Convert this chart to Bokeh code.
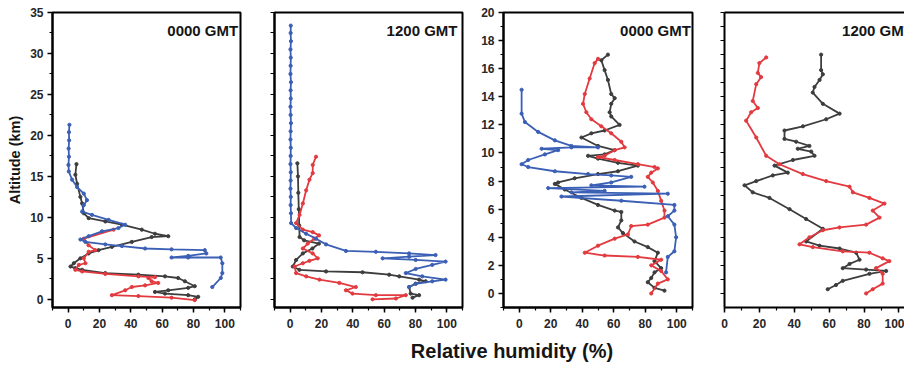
from bokeh.plotting import figure
from bokeh.layouts import row, column
from bokeh.models import Range1d, Label, SingleIntervalTicker, FixedTicker, LinearAxis
from bokeh.embed import file_html
from bokeh.resources import INLINE

# ---------------- data (relative humidity %, altitude km) ----------------
p1_black_rh = [5.3, 4.6, 5.7, 7.8, 8.9, 10.0, 13.1, 23.7, 34.3, 47.0, 55.4, 63.9, 53.3, 40.6, 27.9, 19.4, 13.1, 7.8, 3.6, 1.5, 4.6, 8.9, 23.7, 44.8, 61.8, 70.2, 74.5, 80.8, 76.6, 63.9, 55.4, 61.8, 76.6, 83.0, 80.8]
p1_black_alt = [16.5, 15.2, 14.1, 12.5, 11.7, 10.5, 9.9, 9.5, 9.1, 8.5, 8.0, 7.7, 7.6, 7.0, 6.4, 6.0, 5.6, 5.0, 4.4, 4.0, 3.8, 3.6, 3.2, 3.0, 2.8, 2.6, 2.2, 1.6, 1.4, 1.1, 0.9, 0.7, 0.5, 0.3, 0.0]
p1_blue_rh = [0.8, 0.5, 0.6, 0.3, 0.5, 0.2, 0.4, 2.5, 5.7, 10.0, 12.0, 10.0, 8.9, 15.2, 25.8, 36.4, 32.1, 21.6, 13.1, 7.8, 11.0, 23.7, 34.3, 49.1, 66.0, 87.2, 88.2, 76.6, 66.0, 76.6, 97.4, 98.4, 98.4, 97.4, 92.0]
p1_blue_alt = [21.3, 20.4, 19.4, 18.4, 17.4, 16.4, 15.6, 14.6, 13.7, 12.9, 12.1, 11.5, 10.7, 10.3, 9.7, 9.1, 8.7, 8.3, 7.7, 7.3, 7.0, 6.7, 6.5, 6.2, 6.1, 6.0, 5.6, 5.3, 5.1, 5.1, 5.1, 4.4, 3.2, 2.6, 1.5]
p1_red_rh = [29.0, 10.0, 13.0, 17.3, 13.1, 10.0, 11.0, 6.8, 4.6, 8.9, 23.7, 44.8, 55.4, 51.2, 53.3, 57.5, 49.1, 40.6, 36.4, 27.9, 44.8, 66.0, 80.8]
p1_red_alt = [8.5, 7.4, 6.6, 6.0, 5.8, 5.0, 4.4, 4.2, 3.6, 3.4, 3.1, 2.8, 2.7, 2.6, 2.2, 2.0, 1.7, 1.5, 1.1, 0.5, 0.4, 0.2, -0.1]

p2_blue_rh = [0.4, 0.3, 0.5, 0.2, 0.4, 0.3, 0.2, 0.5, 0.3, 0.4, 0.2, 0.3, 0.5, 0.3, 0.2, 0.4, 0.3, 0.2, 0.4, 0.3, 0.2, 0.4, 0.3, 0.5, 0.6, 3.8, 10.2, 16.5, 22.9, 35.6, 54.7, 75.9, 92.8, 75.9, 59.0, 80.1, 99.2, 90.7, 80.1, 73.8, 84.3, 99.2, 90.7, 80.1, 75.9]
p2_blue_alt = [33.4, 32.5, 31.5, 30.5, 29.5, 28.5, 27.5, 26.5, 25.5, 24.5, 23.5, 22.5, 21.5, 20.5, 19.5, 18.5, 17.5, 16.5, 15.5, 14.5, 13.5, 12.5, 11.5, 10.5, 9.3, 8.7, 8.0, 7.4, 6.7, 5.9, 5.8, 5.6, 5.4, 5.2, 5.0, 4.8, 4.6, 4.2, 3.7, 3.2, 2.8, 2.4, 2.2, 1.9, 1.5]
p2_black_rh = [4.6, 5.0, 5.2, 5.5, 5.8, 6.0, 8.9, 18.4, 14.2, 8.1, 3.8, 1.7, 5.9, 22.9, 46.2, 63.2, 69.6, 82.3, 86.5, 80.1, 75.9, 76.9, 82.3, 78.1]
p2_black_alt = [16.6, 15.0, 13.0, 11.0, 9.0, 7.6, 7.2, 6.8, 6.2, 5.6, 4.8, 4.0, 3.6, 3.4, 3.3, 3.0, 2.8, 2.4, 2.2, 1.9, 1.5, 0.7, 0.5, 0.2]
p2_red_rh = [16.5, 14.4, 14.4, 12.3, 10.2, 8.1, 6.0, 3.8, 8.1, 14.4, 18.4, 15.4, 11.2, 8.1, 14.4, 17.6, 12.3, 8.1, 2.8, 3.8, 10.2, 18.7, 31.4, 41.9, 35.6, 39.8, 54.7, 73.8, 67.5, 52.6]
p2_red_alt = [17.4, 16.4, 15.4, 14.6, 13.3, 11.7, 10.3, 9.3, 8.5, 8.2, 7.8, 7.4, 6.8, 6.2, 5.6, 5.0, 4.7, 4.4, 4.0, 3.2, 2.8, 2.4, 2.0, 1.5, 1.1, 0.7, 0.5, 0.5, 0.1, 0.0]

p3_black_rh = [56.3, 52.1, 54.2, 56.3, 58.4, 60.6, 58.4, 57.4, 58.4, 63.7, 54.2, 45.8, 39.5, 50.0, 60.6, 54.2, 43.7, 50.0, 62.7, 75.3, 62.7, 50.0, 35.2, 24.7, 22.6, 28.9, 39.5, 50.0, 60.6, 64.8, 64.8, 62.7, 65.8, 73.2, 81.6, 88.0, 85.9, 90.1, 85.9, 83.8, 81.6, 85.9, 92.2]
p3_black_alt = [17.0, 16.6, 15.9, 15.2, 14.2, 13.9, 13.5, 12.9, 12.6, 12.0, 11.6, 11.4, 11.1, 10.5, 10.2, 9.9, 9.8, 9.6, 9.3, 9.1, 8.7, 8.5, 8.2, 7.9, 7.8, 7.4, 6.8, 6.3, 5.9, 5.8, 5.2, 4.7, 4.3, 3.7, 3.3, 2.9, 2.3, 1.8, 1.5, 1.1, 0.8, 0.4, 0.2]
p3_red_rh = [50.0, 47.9, 44.7, 41.6, 40.5, 42.6, 45.8, 52.1, 58.4, 64.8, 66.9, 60.6, 54.2, 50.0, 60.6, 75.3, 85.9, 88.0, 83.8, 81.6, 84.8, 88.0, 90.1, 92.2, 92.2, 81.6, 71.1, 69.0, 60.6, 50.0, 41.6, 54.2, 75.3, 90.1, 83.8, 90.1, 94.3, 88.0, 83.8]
p3_red_alt = [16.7, 16.4, 15.3, 14.2, 13.5, 12.9, 12.4, 11.9, 11.4, 10.8, 10.4, 10.2, 9.8, 9.7, 9.5, 9.2, 9.0, 8.9, 8.6, 8.3, 7.9, 7.3, 6.6, 5.9, 5.4, 4.9, 4.8, 4.2, 3.9, 3.4, 2.9, 2.7, 2.6, 2.4, 2.0, 1.6, 1.0, 0.7, 0.0]
p3_blue_rh = [1.5, 1.5, 3.6, 12.0, 22.6, 33.1, 50.0, 33.1, 14.2, 24.7, 16.3, 5.7, 1.5, 5.7, 22.6, 43.7, 58.4, 71.1, 58.4, 45.8, 79.5, 18.4, 54.2, 33.1, 94.3, 26.8, 64.8, 98.5, 98.5, 94.3, 98.5, 99.6, 98.5, 94.3, 93.2]
p3_blue_alt = [14.5, 12.8, 12.2, 11.5, 10.9, 10.5, 10.4, 10.4, 10.3, 10.2, 9.9, 9.5, 9.2, 9.0, 8.7, 8.5, 8.4, 8.3, 7.9, 7.7, 7.6, 7.5, 7.3, 7.2, 7.1, 6.9, 6.6, 6.3, 5.9, 5.5, 4.9, 4.0, 3.0, 2.6, 1.5]

p4_black_rh = [55.4, 55.4, 56.4, 54.5, 51.6, 50.6, 56.4, 66.0, 58.3, 45.0, 34.4, 34.4, 41.1, 48.7, 42.0, 49.7, 51.6, 39.2, 28.7, 36.3, 27.7, 18.2, 11.5, 16.2, 25.8, 37.3, 46.8, 56.4, 46.8, 54.5, 66.0, 75.5, 77.4, 71.7, 67.8, 81.2, 92.7, 83.1, 67.8, 63.9, 59.2]
p4_black_alt = [17.0, 15.9, 15.6, 15.2, 14.7, 14.3, 13.5, 12.8, 12.4, 11.9, 11.6, 11.0, 10.8, 10.5, 10.3, 10.1, 9.8, 9.5, 9.1, 8.6, 8.4, 8.0, 7.7, 7.2, 6.8, 6.0, 5.3, 4.6, 3.7, 3.4, 3.2, 2.9, 2.4, 2.1, 1.8, 1.7, 1.6, 1.4, 0.9, 0.6, 0.3]
p4_red_rh = [23.9, 20.0, 19.1, 21.0, 18.2, 16.2, 19.1, 15.3, 12.4, 18.2, 23.9, 31.5, 44.9, 58.3, 71.7, 73.6, 83.1, 91.7, 85.0, 88.9, 81.2, 65.9, 56.4, 48.7, 43.0, 50.6, 67.8, 83.1, 90.7, 94.5, 86.9, 90.7, 90.7, 85.0, 81.2]
p4_red_alt = [16.8, 16.4, 15.7, 15.4, 14.9, 13.7, 13.2, 12.9, 12.3, 11.1, 9.8, 9.2, 8.5, 8.0, 7.6, 7.2, 6.8, 6.4, 5.9, 5.4, 4.9, 4.7, 4.5, 4.0, 3.5, 3.3, 3.0, 2.9, 2.5, 2.3, 1.8, 1.4, 0.7, 0.3, 0.0]

panel_titles = ["0000 GMT", "1200 GMT", "0000 GMT", "1200 GMT"]
x_title = "Relative humidity (%)"
y_title = "Altitude (km)"
x_ticks = [0, 20, 40, 60, 80, 100]
alt_ticks_full = [0, 5, 10, 15, 20, 25, 30, 35]
alt_ticks_low = [0, 2, 4, 6, 8, 10, 12, 14, 16, 18, 20]

# ---------------- styling ----------------
FONT = "Liberation Sans"
C_BLACK = "#3d3d3d"
C_RED = "#e23a3f"
C_BLUE = "#3a5fb5"
H = 336


def style_axis(ax, standoff):
    ax.axis_line_color = "black"
    ax.axis_line_width = 2
    ax.major_tick_out = 5
    ax.major_tick_in = 0
    ax.minor_tick_out = 3
    ax.minor_tick_in = 0
    ax.major_tick_line_width = 1.5
    ax.minor_tick_line_width = 1.2
    ax.major_tick_line_color = "black"
    ax.minor_tick_line_color = "black"
    ax.major_label_text_font = FONT
    ax.major_label_text_font_style = "bold"
    ax.major_label_text_font_size = "12px"
    ax.major_label_text_color = "#262626"
    ax.major_label_standoff = standoff


def make_panel(width, left, right, xr, yr, yticks, show_ylabels):
    p = figure(width=width, height=H, x_range=Range1d(*xr), y_range=Range1d(*yr),
               min_border_left=left, min_border_right=right, min_border_top=12,
               min_border_bottom=29, toolbar_location=None, output_backend="svg")
    p.grid.visible = False
    p.background_fill_color = "white"
    p.border_fill_color = "white"
    p.outline_line_color = "black"
    p.outline_line_width = 2
    xstep = x_ticks[1] - x_ticks[0]
    p.xaxis.ticker = SingleIntervalTicker(interval=xstep, num_minor_ticks=2)
    ystep = yticks[1] - yticks[0]
    if show_ylabels:
        p.yaxis.ticker = SingleIntervalTicker(interval=ystep, num_minor_ticks=2)
    else:
        # ticks only, no labels: every tick drawn as a (label-free) minor tick
        minor = []
        for t in yticks:
            minor.append(t)
            minor.append(t + ystep / 2)
        p.yaxis.ticker = FixedTicker(ticks=[], minor_ticks=minor)
    for ax in p.xaxis:
        style_axis(ax, 6)
    for ax in p.yaxis:
        style_axis(ax, 4)
    if not show_ylabels:
        p.yaxis.minor_tick_out = 4
    return p


def draw(p, rh, alt, color):
    p.line(rh, alt, line_color=color, line_width=1.8)
    p.scatter(rh, alt, size=3.2, fill_color=color, line_color=color)


def title(p, x, y, text, align):
    p.add_layout(Label(x=x, y=y, text=text, text_align=align, text_baseline="middle",
                       text_font=FONT, text_font_style="bold", text_font_size="15px",
                       text_color="#151515"))


p1 = make_panel(257, 52, 17, (-10, 110), (-1, 35), alt_ticks_full, True)
p1.yaxis.axis_label = y_title
p1.yaxis.axis_label_text_font = FONT
p1.yaxis.axis_label_text_font_style = "bold"
p1.yaxis.axis_label_text_font_size = "14.5px"
p1.yaxis.axis_label_text_color = "#151515"
p1.yaxis.axis_label_standoff = 4
draw(p1, p1_black_rh, p1_black_alt, C_BLACK)
draw(p1, p1_red_rh, p1_red_alt, C_RED)
draw(p1, p1_blue_rh, p1_blue_alt, C_BLUE)
title(p1, 108.5, 32.8, panel_titles[0], "right")

p2 = make_panel(217, 17, 12, (-10, 110), (-1, 35), alt_ticks_full, False)
draw(p2, p2_black_rh, p2_black_alt, C_BLACK)
draw(p2, p2_red_rh, p2_red_alt, C_RED)
draw(p2, p2_blue_rh, p2_blue_alt, C_BLUE)
title(p2, 106.8, 32.8, panel_titles[1], "right")

p3 = make_panel(226, 29, 8, (-10, 110), (-1, 20), alt_ticks_low, True)
draw(p3, p3_black_rh, p3_black_alt, C_BLACK)
draw(p3, p3_red_rh, p3_red_alt, C_RED)
draw(p3, p3_blue_rh, p3_blue_alt, C_BLUE)
title(p3, 109.0, 18.7, panel_titles[2], "right")

p4 = make_panel(204, 24, 0, (0, 103.2), (-1, 20), alt_ticks_low, False)
p4.outline_line_color = None
top_ax = LinearAxis(ticker=FixedTicker(ticks=[], minor_ticks=[]),
                    major_tick_out=0, major_tick_in=0, minor_tick_out=0, minor_tick_in=0,
                    major_label_standoff=0, axis_line_color="black", axis_line_width=2)
p4.add_layout(top_ax, "above")
draw(p4, p4_black_rh, p4_black_alt, C_BLACK)
draw(p4, p4_red_rh, p4_red_alt, C_RED)
title(p4, 67.4, 18.7, panel_titles[3], "left")

pt = figure(width=904, height=29, x_range=Range1d(0, 904), y_range=Range1d(0, 29),
            x_axis_type=None, y_axis_type=None, min_border=0,
            toolbar_location=None, output_backend="svg")
pt.grid.visible = False
pt.outline_line_color = None
pt.add_layout(Label(x=511.5, y=15, x_units="screen", y_units="screen", text=x_title,
                    text_align="center", text_baseline="middle",
                    text_font=FONT, text_font_style="bold", text_font_size="20px",
                    text_color="#151515"))

layout = column(row(p1, p2, p3, p4, spacing=0), pt, spacing=0)
open("out.html", "w").write(file_html(layout, INLINE))
